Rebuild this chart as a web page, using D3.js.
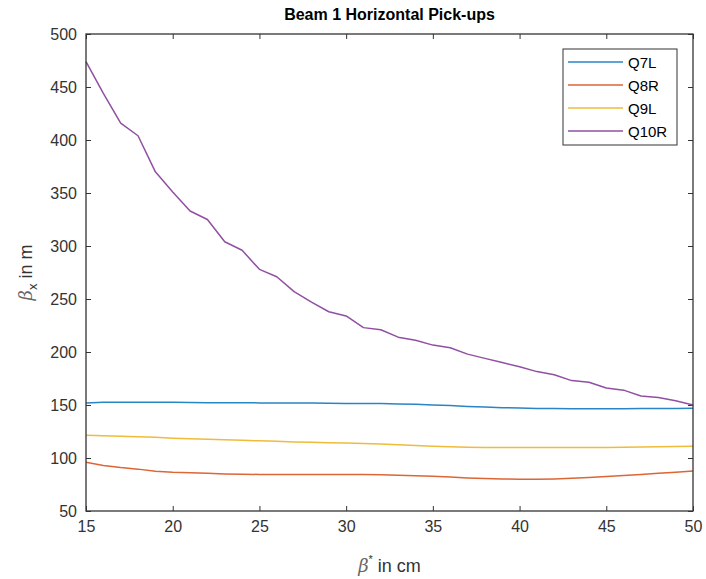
<!DOCTYPE html>
<html>
<head>
<meta charset="utf-8">
<script src="https://cdn.jsdelivr.net/npm/d3@7"></script>
<style>
  html, body { margin: 0; padding: 0; background: #fff; }
  svg { display: block; font-family: "Liberation Sans", Arial, sans-serif; }
</style>
</head>
<body>
<svg id="chart" width="706" height="579"></svg>
<script>
const betaStar = d3.range(15, 51); // 15..50 cm

const q7l = [152, 152.5, 152.5, 152.5, 152.5, 152.5, 152.3, 152.2, 152.2, 152.1, 152, 152, 151.9, 151.8, 151.7, 151.5, 151.4, 151.3, 151, 150.6, 150, 149.5, 148.7, 148, 147.5, 147.1, 146.8, 146.6, 146.5, 146.5, 146.5, 146.5, 146.6, 146.7, 146.8, 147];
const q8r = [96, 93, 91, 89.5, 87.5, 86.5, 86, 85.5, 85, 84.7, 84.5, 84.5, 84.5, 84.5, 84.5, 84.5, 84.5, 84.2, 83.8, 83.3, 82.7, 82, 81.2, 80.6, 80.2, 80, 80, 80.3, 80.8, 81.6, 82.5, 83.5, 84.5, 85.5, 86.5, 87.8];
const q9l = [121.5, 121, 120.5, 120, 119.5, 118.7, 118.2, 117.7, 117.2, 116.7, 116.2, 115.7, 115.2, 114.8, 114.4, 114.1, 113.7, 113.2, 112.6, 111.8, 111.1, 110.6, 110.2, 110, 110, 110, 110, 110, 110, 110, 110, 110.2, 110.4, 110.6, 110.9, 111.2];
const q10r = [474, 444, 416, 404, 370, 351, 333, 325, 304, 296, 278, 271, 257, 247, 238, 234, 223, 221, 214, 211, 206.5, 204, 198, 194, 190, 186, 181.5, 178.5, 173, 171.5, 166, 164, 158.5, 157, 154, 150];

const seriesNames = ["Q7L", "Q8R", "Q9L", "Q10R"];
const seriesValues = [q7l, q8r, q9l, q10r];
const colors = ["#2a84c6", "#de6534", "#efbb3a", "#9050a2"];

const xTicks = [15, 20, 25, 30, 35, 40, 45, 50];
const yTicks = [50, 100, 150, 200, 250, 300, 350, 400, 450, 500];

const svg = d3.select("#chart");
const margin = { top: 34, right: 13, bottom: 68, left: 86 };
const width = 706, height = 579;
const axisColor = "#333333";

const x = d3.scaleLinear().domain([15, 50]).range([margin.left, width - margin.right]);
const y = d3.scaleLinear().domain([50, 500]).range([height - margin.bottom, margin.top]);

// mirrored ticks top and right
svg.append("g")
  .attr("transform", `translate(0,${margin.top})`)
  .call(d3.axisTop(x).tickValues(xTicks).tickSize(-5).tickFormat(""))
  .call(g => g.select(".domain").remove());
svg.append("g")
  .attr("transform", `translate(${width - margin.right},0)`)
  .call(d3.axisRight(y).tickValues(yTicks).tickSize(-5).tickFormat(""))
  .call(g => g.select(".domain").remove());

svg.append("g")
  .attr("transform", `translate(0,${height - margin.bottom})`)
  .call(d3.axisBottom(x).tickValues(xTicks).tickSize(-5).tickPadding(10));
svg.append("g")
  .attr("transform", `translate(${margin.left},0)`)
  .call(d3.axisLeft(y).tickValues(yTicks).tickSize(-5).tickPadding(9));

svg.selectAll(".tick line").attr("stroke", axisColor);
svg.selectAll(".domain").remove();
svg.selectAll(".tick text")
  .attr("font-family", "'Liberation Sans', Arial, sans-serif")
  .attr("font-size", 16)
  .attr("fill", axisColor);

// series lines
const line = d3.line().x((d, i) => x(betaStar[i])).y(d => y(d));
seriesValues.forEach((vals, k) => {
  svg.append("path")
    .datum(vals)
    .attr("fill", "none")
    .attr("stroke", colors[k])
    .attr("stroke-width", 1.5)
    .attr("stroke-linejoin", "round")
    .attr("d", line);
});

// box
svg.append("rect")
  .attr("x", margin.left).attr("y", margin.top)
  .attr("width", width - margin.left - margin.right)
  .attr("height", height - margin.top - margin.bottom)
  .attr("fill", "none").attr("stroke", axisColor).attr("stroke-width", 1.3);

// title
svg.append("text")
  .attr("x", (margin.left + width - margin.right) / 2)
  .attr("y", 20)
  .attr("text-anchor", "middle")
  .attr("font-weight", "bold")
  .attr("font-size", 16)
  .attr("fill", "#000")
  .text("Beam 1 Horizontal Pick-ups");

// x label
const xl = svg.append("text")
  .attr("x", (margin.left + width - margin.right) / 2)
  .attr("y", 572)
  .attr("text-anchor", "middle")
  .attr("font-size", 18)
  .attr("fill", axisColor);
xl.append("tspan").attr("font-family", "'DejaVu Serif', serif").attr("font-style", "italic").attr("fill", "#666").text("β");
xl.append("tspan").attr("dy", -9).attr("font-size", 11).text("*");
xl.append("tspan").attr("dy", 9).text(" in cm");

// y label
const yl = svg.append("text")
  .attr("transform", `translate(32,${(margin.top + height - margin.bottom) / 2}) rotate(-90)`)
  .attr("text-anchor", "middle")
  .attr("font-size", 18)
  .attr("fill", axisColor);
yl.append("tspan").attr("font-family", "'DejaVu Serif', serif").attr("font-style", "italic").attr("fill", "#666").text("β");
yl.append("tspan").attr("dy", 5).attr("font-size", 13).text("x");
yl.append("tspan").attr("dy", -5).text(" in m");

// legend
const lg = svg.append("g").attr("transform", "translate(563,49)");
lg.append("rect").attr("width", 114).attr("height", 96)
  .attr("fill", "#fff").attr("stroke", axisColor).attr("stroke-width", 1);
seriesNames.forEach((name, k) => {
  const ry = 13 + k * 23;
  lg.append("line").attr("x1", 5).attr("x2", 60).attr("y1", ry).attr("y2", ry)
    .attr("stroke", colors[k]).attr("stroke-width", 1.5);
  lg.append("text").attr("x", 65).attr("y", ry + 5.5)
    .attr("font-size", 15).attr("fill", "#000").text(name);
});
</script>
</body>
</html>
